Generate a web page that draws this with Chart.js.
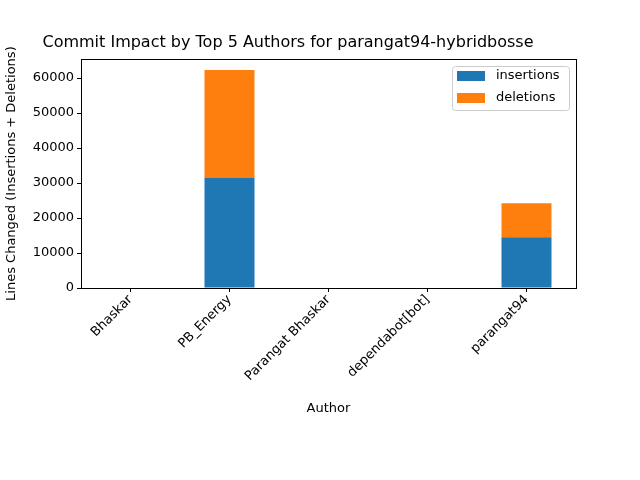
<!DOCTYPE html>
<html><head><meta charset="utf-8">
<script src="https://cdn.jsdelivr.net/npm/chart.js@4"></script>
<style>html,body{margin:0;padding:0;background:#fff}#c{display:block}</style>
</head><body>
<canvas id="c" width="640" height="480"></canvas>
<script>
const authors = ["Bhaskar","PB_Energy","Parangat Bhaskar","dependabot[bot]","parangat94"];
const insertions = [0, 31600, 0, 0, 14500];
const deletions = [0, 30700, 0, 0, 9700];
const yTicks = [0,10000,20000,30000,40000,50000,60000];
const seriesNames = ["insertions","deletions"];
const colors = ["#1f77b4","#ff7f0e"];
const FONT = "DejaVu Sans";

const frame = {
  id:'frame',
  afterDraw(chart){
    const {ctx, chartArea:a} = chart;
    ctx.save();
    ctx.strokeStyle='#000'; ctx.lineWidth=1;
    ctx.strokeRect(Math.round(a.left)+0.5, Math.round(a.top)+0.5, Math.round(a.right-a.left), Math.round(a.bottom-a.top));
    const x=452, y=66, w=117, h=44;
    ctx.strokeStyle='#cccccc'; ctx.fillStyle='rgba(255,255,255,0.8)';
    ctx.beginPath(); ctx.roundRect(x+0.5,y+0.5,w,h,3); ctx.fill(); ctx.stroke();
    ctx.font = `13px "${FONT}"`; ctx.textBaseline='middle'; ctx.textAlign='left';
    seriesNames.forEach((n,i)=>{
      const cy = y+10+i*22;
      ctx.fillStyle=colors[i]; ctx.fillRect(x+5, cy-5, 28, 10);
      ctx.fillStyle='#000'; ctx.fillText(n, x+44, cy);
    });
    ctx.restore();
  }
};

new Chart(document.getElementById('c'), {
  type:'bar',
  data:{labels:authors, datasets:[
    {label:seriesNames[0], data:insertions, backgroundColor:colors[0], barPercentage:0.505, categoryPercentage:1},
    {label:seriesNames[1], data:deletions, backgroundColor:colors[1], barPercentage:0.505, categoryPercentage:1}
  ]},
  options:{
    responsive:false, animation:false,
    layout:{padding:{left:0,right:64,top:0,bottom:64}},
    plugins:{
      legend:{display:false}, tooltip:{enabled:false},
      title:{display:true, text:"Commit Impact by Top 5 Authors for parangat94-hybridbosse",
        color:'#000', font:{family:FONT,size:16,weight:'normal'}, padding:{top:33,bottom:7,left:81}}
    },
    scales:{
      x:{stacked:true, offset:true,
        grid:{display:true, drawOnChartArea:false, color:'#000', tickLength:4, offset:false},
        border:{display:false},
        ticks:{color:'#000', font:{family:FONT,size:13}, maxRotation:45, minRotation:45, padding:0},
        title:{display:true, text:'Author', color:'#000', font:{family:FONT,size:13}, padding:0},
        afterFit(s){s.height=128;}
      },
      y:{stacked:true, min:0, max:65400,
        afterBuildTicks(s){s.ticks = yTicks.map(v=>({value:v}));},
        grid:{display:true, drawOnChartArea:false, color:'#000', tickLength:4},
        border:{display:false},
        ticks:{color:'#000', font:{family:FONT,size:13}, padding:3, callback:v=>String(v)},
        title:{display:true, text:'Lines Changed (Insertions + Deletions)', color:'#000', font:{family:FONT,size:13}},
        afterFit(s){s.width=81;}
      }
    }
  },
  plugins:[frame]
});
</script>
</body></html>
